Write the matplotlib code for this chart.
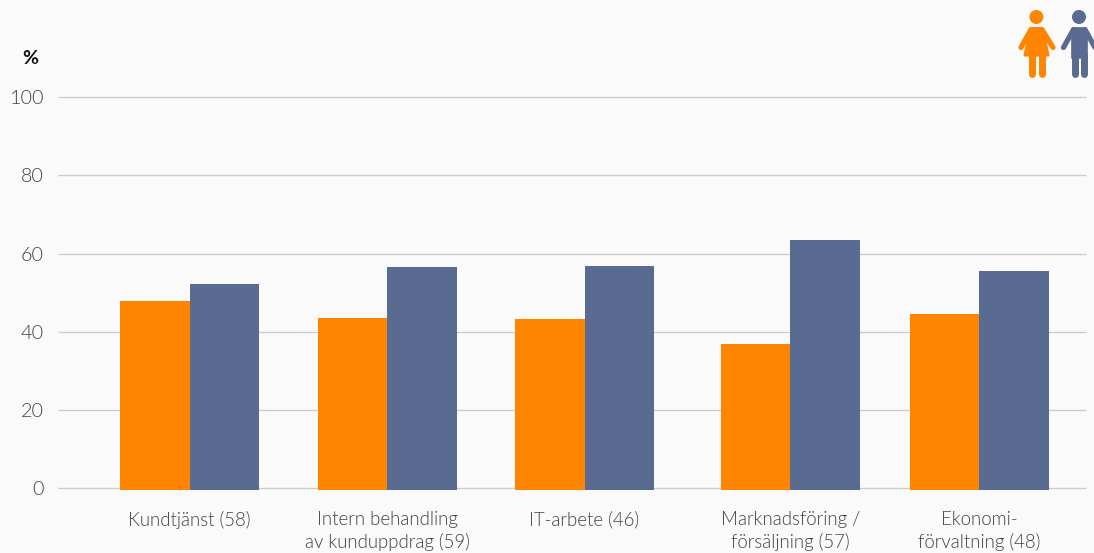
import matplotlib
matplotlib.use("Agg")
import matplotlib.pyplot as plt
from matplotlib.patches import Circle, Polygon

plt.rcParams['font.family'] = ['Lato', 'DejaVu Sans']

categories = ["Kundtjänst (58)", "Intern behandling\nav kunduppdrag (59)", "IT-arbete (46)",
              "Marknadsföring /\nförsäljning (57)", "Ekonomi-\nförvaltning (48)"]
women = [48.0, 43.6, 43.3, 37.0, 44.6]
men = [52.2, 56.6, 56.9, 63.5, 55.6]
y_ticks = [0, 20, 40, 60, 80, 100]

W, H = 1094, 553
ORANGE = "#ff8500"
BLUE = "#5a6b91"
BG = "#fafafa"
GRID = "#cccccc"
TEXT = "#404040"

# Group centres and bar width, in pixels along the horizontal axis
centres = [189.5, 387, 584.5, 790.4, 979.4]
bar_w = 69.5
base_drop = 0.4  # bars sink slightly below the baseline

fig = plt.figure(figsize=(W / 100, H / 100), dpi=100, facecolor=BG)
ax = fig.add_axes([58 / W, 1 - 488.2 / H, (1086 - 58) / W, 391 / H], facecolor=BG)
ax.set_xlim(58, 1086)
ax.set_ylim(0, 100)

for c, w, m in zip(centres, women, men):
    ax.bar(c - bar_w / 2, w + base_drop, bar_w, bottom=-base_drop, color=ORANGE,
           zorder=3, clip_on=False, linewidth=0)
    ax.bar(c + bar_w / 2, m + base_drop, bar_w, bottom=-base_drop, color=BLUE,
           zorder=3, clip_on=False, linewidth=0)

for t in y_ticks:
    ax.plot([58, 1086], [t, t], color=GRID, lw=0.95, zorder=1, clip_on=False,
            solid_capstyle="butt")

for s in ax.spines.values():
    s.set_visible(False)
ax.set_yticks(y_ticks)
ax.set_yticklabels([str(t) for t in y_ticks], fontsize=14.2, color=TEXT, fontweight=300)
ax.tick_params(axis="y", length=0, pad=10)
ax.set_xticks(centres)
ax.set_xticklabels(categories, fontsize=13.4, color=TEXT, fontweight=300, linespacing=1.35)
ax.tick_params(axis="x", length=0, pad=16.2)
for lab in ax.get_xticklabels():
    lab.set_verticalalignment("top")

# Overlay in pixel coordinates for the unit sign and the two figures
ov = fig.add_axes([0, 0, 1, 1], facecolor="none")
ov.set_xlim(0, W)
ov.set_ylim(H, 0)
ov.axis("off")
ov.text(30.5, 58, "%", fontsize=14, fontweight="bold", color="#111111",
        ha="center", va="center")

# Woman
ov.add_patch(Circle((1036.4, 17), 7, color=ORANGE, lw=0))
ov.add_patch(Polygon([(1031.5, 28), (1041.5, 28), (1044.5, 36), (1048.5, 55.5), (1024.5, 55.5), (1028.5, 36)],
                     closed=True, color=ORANGE, lw=1.5, joinstyle="round"))
ov.plot([1031, 1021], [29.5, 47.5], color=ORANGE, lw=3.8, solid_capstyle="round")
ov.plot([1042, 1053], [29.5, 47.5], color=ORANGE, lw=3.8, solid_capstyle="round")
ov.plot([1032, 1032], [54, 74], color=ORANGE, lw=5.0, solid_capstyle="round")
ov.plot([1041.5, 1041.5], [54, 74], color=ORANGE, lw=5.0, solid_capstyle="round")

# Man
ov.add_patch(Circle((1079, 17), 7, color=BLUE, lw=0))
ov.add_patch(Polygon([(1074, 28), (1084.5, 28), (1087, 32), (1087, 58), (1072, 58), (1072, 32)],
                     closed=True, color=BLUE, lw=1.2, joinstyle="round"))
ov.plot([1073.5, 1063.5], [29.5, 47.5], color=BLUE, lw=3.8, solid_capstyle="round")
ov.plot([1085, 1095], [29.5, 47.5], color=BLUE, lw=3.8, solid_capstyle="round")
ov.plot([1075, 1075], [55, 74], color=BLUE, lw=5.0, solid_capstyle="round")
ov.plot([1083.8, 1083.8], [55, 74], color=BLUE, lw=5.0, solid_capstyle="round")

fig.savefig("out.png", dpi=100, facecolor=BG)
